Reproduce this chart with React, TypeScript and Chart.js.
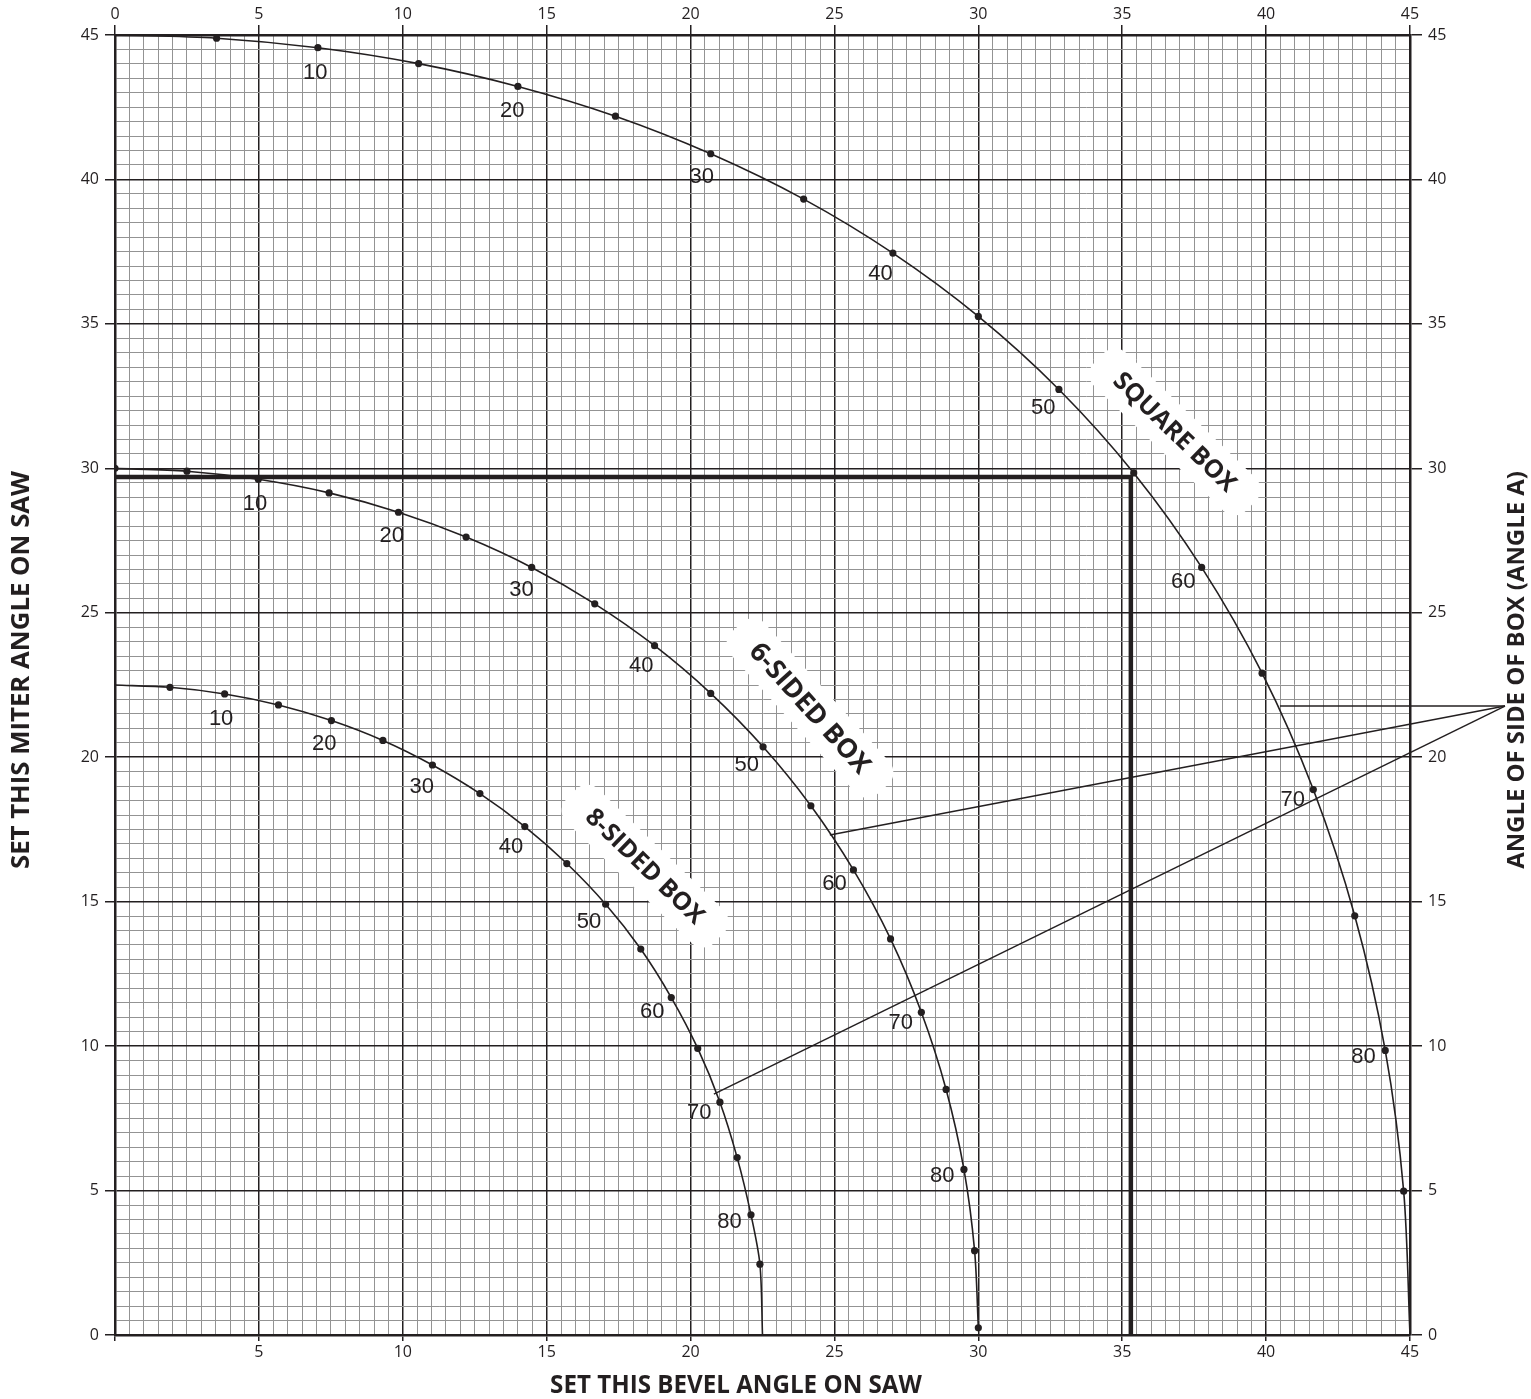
import React, { useEffect, useRef } from "react";
import { Chart, registerables } from "chart.js";

Chart.register(...registerables);

// ---------- DATA ----------
// Angle of side of box (Angle A) at each plotted dot
const sideAngles = [0, 5, 10, 15, 20, 25, 30, 35, 40, 45, 50, 55, 60, 65, 70, 75, 80, 85, 90];
// labelled dots along each curve
const labeledAngles = [10, 20, 30, 40, 50, 60, 70, 80];

// Square box: bevel (x) / miter (y)
const squareBevel = [0, 3.53, 7.05, 10.55, 14.0, 17.39, 20.7, 23.93, 27.03, 30.0, 32.8, 35.4, 37.76, 39.86, 41.64, 43.08, 44.14, 44.78, 45.0];
const squareMiter = [45.0, 44.89, 44.56, 44.01, 43.22, 42.19, 40.89, 39.32, 37.45, 35.26, 32.73, 29.84, 26.57, 22.91, 18.88, 14.51, 9.85, 4.98, 0];

// 6-sided box
const hexBevel = [0, 2.5, 4.98, 7.44, 9.85, 12.2, 14.48, 16.67, 18.75, 20.7, 22.52, 24.18, 25.66, 26.95, 28.02, 28.88, 29.5, 29.87, 30.0];
const hexMiter = [30.0, 29.9, 29.62, 29.15, 28.48, 27.62, 26.57, 25.31, 23.86, 22.21, 20.36, 18.32, 16.1, 13.71, 11.17, 8.5, 5.73, 2.92, 0.25];

// 8-sided box
const octBevel = [0, 1.91, 3.81, 5.68, 7.52, 9.31, 11.03, 12.68, 14.24, 15.7, 17.05, 18.27, 19.33, 20.25, 21.02, 21.62, 22.1, 22.41, 22.5];
const octMiter = [22.5, 22.42, 22.19, 21.81, 21.27, 20.58, 19.73, 18.74, 17.6, 16.32, 14.91, 13.36, 11.68, 9.92, 8.06, 6.14, 4.16, 2.45, 0];

// Worked example reading (thick lines)
const guideBevel = 35.3;
const guideMiter = 29.7;

// Axis ticks
const majorTicks = [0, 5, 10, 15, 20, 25, 30, 35, 40, 45];

// Text
const boxNames = ["SQUARE BOX", "6-SIDED BOX", "8-SIDED BOX"];
const xTitle = "SET THIS BEVEL ANGLE ON SAW";
const yTitle = "SET THIS MITER ANGLE ON SAW";
const y2Title = "ANGLE OF SIDE OF BOX (ANGLE A)";

// Leader lines from the "Angle A" title to each curve
const leaderApex = [48.3, 21.77];
const leaderTargetX = [40.48, 24.84, 20.81];
const leaderTargetY = [21.77, 17.31, 8.34];

// ---------- STYLE ----------
const INK = "#231f20";
const MINOR = "#939393";
const TICK_FONT = "'Open Sans', 'Noto Sans', sans-serif";
const TITLE_FONT = "'Open Sans', 'Noto Sans', sans-serif";
const CURVE_FONT = "'Liberation Sans', Arial, sans-serif";

const isMajor = (v: number) => majorTicks.some((t) => Math.abs(t - v) < 1e-6);

const boxLabelStyle = [
  { x: 36.83, y: 31.26, angle: 44, len: 160 },
  { x: 24.15, y: 21.7, angle: 48, len: 166 },
  { x: 18.42, y: 16.23, angle: 44, len: 154 },
];

function fitFont(ctx: CanvasRenderingContext2D, text: string, target: number, family: string, weight = "bold") {
  ctx.font = `${weight} 20px ${family}`;
  const w = ctx.measureText(text).width;
  const size = (20 * target) / w;
  ctx.font = `${weight} ${size.toFixed(2)}px ${family}`;
  return size;
}

const boxLabelPlugin = {
  id: "boxLabels",
  beforeDatasetsDraw(chart: any) {
    const { ctx, scales } = chart;
    const sx = scales.x, sy = scales.y;
    boxNames.forEach((name, i) => {
      const st = boxLabelStyle[i];
      const cx = sx.getPixelForValue(st.x);
      const cy = sy.getPixelForValue(st.y);
      ctx.save();
      ctx.translate(cx, cy);
      ctx.rotate((st.angle * Math.PI) / 180);
      const bw = st.len + 52, bh = 46;
      ctx.fillStyle = "#ffffff";
      ctx.beginPath();
      if (ctx.roundRect) ctx.roundRect(-bw / 2, -bh / 2, bw, bh, 16);
      else ctx.rect(-bw / 2, -bh / 2, bw, bh);
      ctx.fill();
      fitFont(ctx, name, st.len, TITLE_FONT);
      ctx.fillStyle = INK;
      ctx.textAlign = "center";
      ctx.textBaseline = "middle";
      ctx.fillText(name, 0, 1);
      ctx.restore();
    });
  },
};

const curveLabelPlugin = {
  id: "curveLabels",
  afterDatasetsDraw(chart: any) {
    const { ctx } = chart;
    ctx.save();
    ctx.font = `22px ${CURVE_FONT}`;
    ctx.fillStyle = INK;
    ctx.textAlign = "center";
    ctx.textBaseline = "middle";
    for (let d = 0; d < 3; d++) {
      const pts = chart.getDatasetMeta(d).data;
      labeledAngles.forEach((a) => {
        const i = sideAngles.indexOf(a);
        const p = pts[i], p0 = pts[i - 1], p1 = pts[i + 1];
        let tx = p1.x - p0.x, ty = p1.y - p0.y;
        const len = Math.hypot(tx, ty) || 1;
        tx /= len; ty /= len;
        const nx = -ty, ny = tx;
        ctx.fillText(String(a), p.x + nx * 22, p.y + ny * 22 + 3);
      });
    }
    ctx.restore();
  },
};

const annotationPlugin = {
  id: "annotations",
  afterDraw(chart: any) {
    const { ctx, scales, chartArea } = chart;
    const sx = scales.x, sy = scales.y;
    // leader lines
    ctx.save();
    ctx.strokeStyle = INK;
    ctx.lineWidth = 1.5;
    const ax = sx.getPixelForValue(leaderApex[0]);
    const ay = sy.getPixelForValue(leaderApex[1]);
    leaderTargetX.forEach((tx, i) => {
      ctx.beginPath();
      ctx.moveTo(ax, ay);
      ctx.lineTo(sx.getPixelForValue(tx), sy.getPixelForValue(leaderTargetY[i]));
      ctx.stroke();
    });
    ctx.restore();

    // axis titles
    ctx.save();
    ctx.fillStyle = INK;
    ctx.textAlign = "center";
    ctx.textBaseline = "middle";
    const midY = (chartArea.top + chartArea.bottom) / 2 - 15;
    // bottom
    fitFont(ctx, xTitle, 372, TITLE_FONT);
    ctx.fillText(xTitle, 736, 1386);
    // left
    ctx.save();
    ctx.translate(22, midY);
    ctx.rotate(-Math.PI / 2);
    fitFont(ctx, yTitle, 398, TITLE_FONT);
    ctx.fillText(yTitle, 0, 0);
    ctx.restore();
    // right
    ctx.save();
    ctx.translate(1517, midY);
    ctx.rotate(-Math.PI / 2);
    fitFont(ctx, y2Title, 398, TITLE_FONT);
    ctx.fillText(y2Title, 0, 0);
    ctx.restore();
    ctx.restore();
  },
};

const toPoints = (xs: number[], ys: number[]) => xs.map((x, i) => ({ x, y: ys[i] }));

const gridStyle = (onArea: boolean, tickLen: number) => ({
  display: true,
  drawOnChartArea: onArea,
  drawTicks: true,
  tickLength: tickLen,
  color: (c: any) => (isMajor(c.tick?.value ?? -1) ? INK : MINOR),
  lineWidth: (c: any) => (isMajor(c.tick?.value ?? -1) ? 1.5 : 1),
  tickColor: (c: any) => (isMajor(c.tick?.value ?? -1) ? INK : "rgba(0,0,0,0)"),
  tickWidth: 1.5,
});

const tickStyle = (pad: number, skipZero: boolean) => ({
  stepSize: 0.5,
  autoSkip: false,
  maxRotation: 0,
  minRotation: 0,
  padding: pad,
  color: INK,
  font: { family: TICK_FONT, size: 16 },
  callback: (v: any) => {
    const n = Number(v);
    if (!isMajor(n)) return "";
    if (skipZero && Math.abs(n) < 1e-6) return "";
    return String(Math.round(n));
  },
});

const borderStyle = { display: true, color: INK, width: 2.5 };

const fixSize = (w?: number, h?: number) => (s: any) => {
  if (w !== undefined) s.width = w;
  if (h !== undefined) s.height = h;
  s.paddingLeft = 0;
  s.paddingRight = 0;
  s.paddingTop = 0;
  s.paddingBottom = 0;
};

export default function App() {
  const ref = useRef<HTMLCanvasElement | null>(null);

  useEffect(() => {
    document.body.style.margin = "0";
    if (!ref.current) return;

    const dotRadius = (hideEnds: boolean) => (c: any) =>
      hideEnds && (c.dataIndex === 0 || c.dataIndex === sideAngles.length - 1) ? 0 : 3.6;

    const curveBase = {
      borderColor: INK,
      borderWidth: 1.6,
      pointBackgroundColor: INK,
      pointBorderWidth: 0,
      pointHoverRadius: 0,
      tension: 0.3,
      fill: false,
      xAxisID: "x",
      yAxisID: "y",
    };

    const chart = new Chart(ref.current, {
      type: "line",
      data: {
        datasets: [
          { ...curveBase, label: boxNames[0], data: toPoints(squareBevel, squareMiter), pointRadius: dotRadius(true) },
          { ...curveBase, label: boxNames[1], data: toPoints(hexBevel, hexMiter), pointRadius: dotRadius(false) },
          { ...curveBase, label: boxNames[2], data: toPoints(octBevel, octMiter), pointRadius: dotRadius(true) },
          {
            label: "example",
            data: [
              { x: 0, y: guideMiter },
              { x: guideBevel, y: guideMiter },
              { x: guideBevel, y: 0 },
            ],
            borderColor: INK,
            borderWidth: 4.5,
            pointRadius: 0,
            tension: 0,
            fill: false,
            xAxisID: "x",
            yAxisID: "y",
          } as any,
        ],
      },
      options: {
        responsive: false,
        animation: false,
        devicePixelRatio: 1,
        events: [],
        layout: { padding: 0, autoPadding: false } as any,
        plugins: {
          legend: { display: false },
          title: { display: false },
          tooltip: { enabled: false },
        },
        scales: {
          x: {
            type: "linear",
            position: "bottom",
            min: 0,
            max: 45,
            grid: gridStyle(true, 6),
            border: borderStyle,
            ticks: tickStyle(2, true),
            afterFit: fixSize(undefined, 64),
          },
          x2: {
            type: "linear",
            position: "top",
            min: 0,
            max: 45,
            grid: gridStyle(false, 10),
            border: borderStyle,
            ticks: tickStyle(1, false),
            afterFit: fixSize(undefined, 35),
          },
          y: {
            type: "linear",
            position: "left",
            min: 0,
            max: 45,
            grid: gridStyle(true, 10),
            border: borderStyle,
            ticks: tickStyle(6, false),
            afterFit: fixSize(115, undefined),
          },
          y2: {
            type: "linear",
            position: "right",
            min: 0,
            max: 45,
            grid: gridStyle(false, 12),
            border: borderStyle,
            ticks: tickStyle(6, false),
            afterFit: fixSize(121, undefined),
          },
        } as any,
      },
      plugins: [boxLabelPlugin, curveLabelPlugin, annotationPlugin],
    });

    return () => chart.destroy();
  }, []);

  return (
    <div style={{ width: 1531, height: 1399, background: "#ffffff" }}>
      <canvas ref={ref} width={1531} height={1399} style={{ display: "block" }} />
    </div>
  );
}
